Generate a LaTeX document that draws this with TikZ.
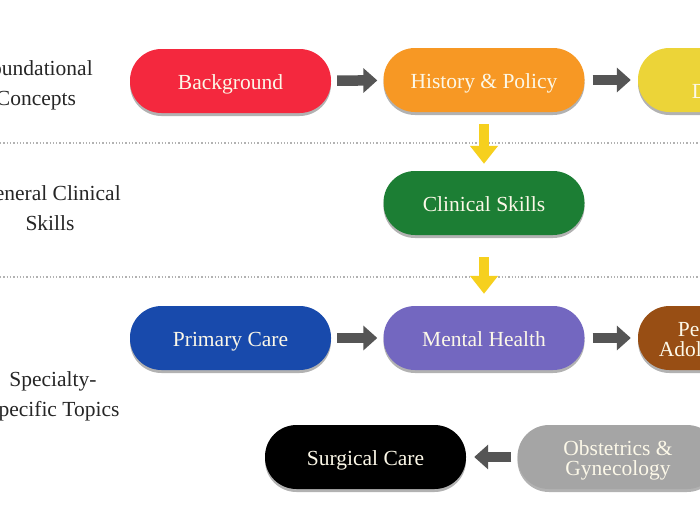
\documentclass[tikz,border=0pt]{standalone}
\usepackage{fontspec}
\setmainfont{Liberation Serif}
\usetikzlibrary{arrows.meta,shadows}
\definecolor{cred}{RGB}{244,40,62}
\definecolor{corange}{RGB}{247,152,36}
\definecolor{cyellow}{RGB}{236,212,56}
\definecolor{cgreen}{RGB}{28,126,52}
\definecolor{cblue}{RGB}{24,74,172}
\definecolor{cpurple}{RGB}{115,103,192}
\definecolor{cbrown}{RGB}{152,78,20}
\definecolor{cgray}{RGB}{165,165,165}
\definecolor{arrowgray}{RGB}{85,85,85}
\definecolor{arrowyellow}{RGB}{246,208,30}
\definecolor{pilltext}{RGB}{252,248,232}
\newcommand{\pilltxt}[1]{\raisebox{-4pt}[\height][\depth]{\begin{tabular}{@{}c@{}}#1\end{tabular}}}
\begin{document}
\begin{tikzpicture}[x=1pt,y=-1pt,
  pill/.style={rounded corners=31.5pt, minimum width=201pt, minimum height=64pt,
    inner sep=0pt, text=pilltext, font=\fontsize{21.5}{20}\selectfont,
    drop shadow={shadow xshift=0pt, shadow yshift=-3pt, opacity=0.3, fill=black}},
  flow/.style={line width=10.5pt, draw=arrowgray, -{Triangle[width=24pt,length=14pt]}},
  down/.style={line width=10pt, draw=arrowyellow, -{Triangle[width=27pt,length=18pt]}},
  sep/.style={draw=black!30, dotted, line width=1.3pt},
  lane/.style={font=\fontsize{21.5}{30}\selectfont, align=center, text=black!85}]
\path[use as bounding box, clip] (0,0) rectangle (700,525);
\fill[white] (0,0) rectangle (700,525);
% separators
\draw[sep] (0,143) -- (700,143);
\draw[sep] (0,277) -- (700,277);
% lane labels
\node[lane] (l1) at (36,85) {Foundational\\Concepts};
\node[lane] (l2) at (50,208) {General Clinical\\Skills};
\node[lane] (l3) at (53,396) {Specialty-\\Specific Topics};
% nodes
\node[pill, fill=cred] (bg) at (230.5,81) {\pilltxt{Background}};
\node[pill, fill=corange] (hp) at (484,80) {\pilltxt{History \& Policy}};
\node[pill, fill=cyellow] (hd) at (738.5,80) {\pilltxt{Health\\Disparities}};
\node[pill, fill=cgreen] (cs) at (484,203) {\pilltxt{Clinical Skills}};
\node[pill, fill=cblue] (pc) at (230.5,338) {\pilltxt{Primary Care}};
\node[pill, fill=cpurple] (mh) at (484,338) {\pilltxt{Mental Health}};
\node[pill, fill=cbrown] (pa) at (738.5,338) {\pilltxt{Pediatrics and\\Adolescent Health}};
\node[pill, fill=black] (sc) at (365.5,457) {\pilltxt{Surgical Care}};
\node[pill, fill=cgray] (og) at (618,457) {\pilltxt{Obstetrics \&\\Gynecology}};
% connectors
\draw[flow, shorten <=6pt, shorten >=6pt] (bg) -- (hp);
\draw[flow, shorten <=8pt, shorten >=7pt] (hp) -- (hd);
\draw[flow, shorten <=6pt, shorten >=6pt] (pc) -- (mh);
\draw[flow, shorten <=8pt, shorten >=7pt] (mh) -- (pa);
\draw[flow, shorten <=6pt, shorten >=8pt] (og.west) -- (sc.east);
\draw[down, shorten <=12pt, shorten >=7pt] (hp) -- (cs);
\draw[down, shorten <=22pt, shorten >=12pt] (cs) -- (mh);
\end{tikzpicture}
\end{document}
